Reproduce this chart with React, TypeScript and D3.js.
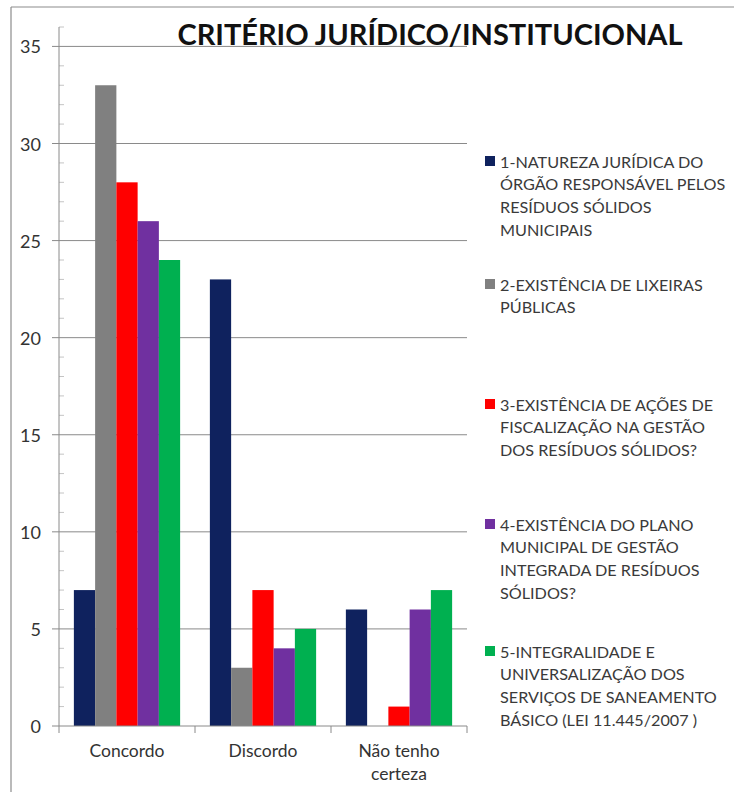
import React from "react";
import * as d3 from "d3";

const categories = ["Concordo", "Discordo", "Não tenho certeza"];
const categoryLines = [["Concordo"], ["Discordo"], ["Não tenho", "certeza"]];
const seriesNames = ["s1", "s2", "s3", "s4", "s5"];
const s1 = [7, 23, 6];
const s2 = [33, 3, 0];
const s3 = [28, 7, 1];
const s4 = [26, 4, 6];
const s5 = [24, 5, 7];
const seriesValues = [s1, s2, s3, s4, s5];
const seriesColors = ["#0f225e", "#808080", "#ff0000", "#7030a0", "#00b050"];
const legendLabels = [
  ["1-NATUREZA JURÍDICA DO", "ÓRGÃO RESPONSÁVEL PELOS", "RESÍDUOS SÓLIDOS", "MUNICIPAIS"],
  ["2-EXISTÊNCIA DE LIXEIRAS", "PÚBLICAS"],
  ["3-EXISTÊNCIA DE AÇÕES DE", "FISCALIZAÇÃO NA GESTÃO", "DOS RESÍDUOS SÓLIDOS?"],
  ["4-EXISTÊNCIA DO PLANO", "MUNICIPAL DE GESTÃO", "INTEGRADA DE RESÍDUOS", "SÓLIDOS?"],
  ["5-INTEGRALIDADE E", "UNIVERSALIZAÇÃO DOS", "SERVIÇOS DE SANEAMENTO", "BÁSICO (LEI 11.445/2007 )"],
];
const yMajorTicks = [0, 5, 10, 15, 20, 25, 30, 35];
const yMax = 36;
const title = "CRITÉRIO JURÍDICO/INSTITUCIONAL";

// layout
const W = 734;
const H = 792;
const plotLeft = 59;
const plotRight = 467;
const plotTop = 27;
const plotBottom = 726;
const legendTops = [161, 284, 404, 524, 651];
const legendLineH = 22.8;
const FONT = "Lato, 'Open Sans', sans-serif";

export default function App() {
  const y = d3.scaleLinear().domain([0, yMax]).range([plotBottom, plotTop]);
  const x0 = d3.scaleBand().domain(categories).range([plotLeft, plotRight]).padding(0);
  const x1 = d3
    .scaleBand()
    .domain(seriesNames)
    .range([0, x0.bandwidth()])
    .paddingInner(0)
    .paddingOuter(0.7);
  const minorTicks = d3.range(0, yMax + 1).filter((v) => v % 5 !== 0);
  const boundaries = [...categories.map((c) => x0(c) as number), plotRight];

  return (
    <svg
      width={W}
      height={H}
      style={{ position: "absolute", left: 0, top: 0, background: "#fff" }}
      fontFamily={FONT}
    >
      <rect x={0} y={0} width={W} height={H} fill="#fff" />
      {/* frame */}
      <line x1={11} y1={7} x2={W} y2={7} stroke="#8c8c8c" strokeWidth={1.2} />
      <line x1={11} y1={7} x2={11} y2={H} stroke="#8c8c8c" strokeWidth={1.2} />

      {/* gridlines */}
      {yMajorTicks
        .filter((t) => t > 0)
        .map((t) => (
          <line
            key={"g" + t}
            x1={plotLeft - 7}
            x2={plotRight}
            y1={y(t)}
            y2={y(t)}
            stroke="#8a8a8a"
            strokeWidth={1}
          />
        ))}
      {/* minor ticks */}
      {minorTicks.map((t) => (
        <line
          key={"m" + t}
          x1={plotLeft}
          x2={plotLeft + 5}
          y1={y(t)}
          y2={y(t)}
          stroke="#c4c4c4"
          strokeWidth={1}
        />
      ))}

      {/* bars */}
      {seriesValues.map((vals, si) =>
        vals.map((v, ci) => (
          <rect
            key={si + "-" + ci}
            x={(x0(categories[ci]) as number) + (x1(seriesNames[si]) as number)}
            y={y(v)}
            width={x1.bandwidth()}
            height={plotBottom - y(v)}
            fill={seriesColors[si]}
          />
        ))
      )}

      {/* y axis */}
      <line x1={plotLeft} x2={plotLeft} y1={plotTop} y2={plotBottom} stroke="#8a8a8a" strokeWidth={1} />
      <line x1={plotLeft - 7} x2={plotLeft} y1={plotBottom} y2={plotBottom} stroke="#8a8a8a" strokeWidth={1} />
      {yMajorTicks.map((t) => (
        <text
          key={"yl" + t}
          x={41}
          y={y(t)}
          textAnchor="end"
          dominantBaseline="central"
          fontSize={18}
          fill="#333"
        >
          {t}
        </text>
      ))}

      {/* x axis */}
      <line x1={plotLeft} x2={plotRight} y1={plotBottom} y2={plotBottom} stroke="#8a8a8a" strokeWidth={1} />
      {boundaries.map((bx, i) => (
        <line key={"xt" + i} x1={bx} x2={bx} y1={plotBottom} y2={plotBottom + 7} stroke="#8a8a8a" strokeWidth={1} />
      ))}
      {categories.map((c, ci) =>
        categoryLines[ci].map((ln, li) => (
          <text
            key={c + li}
            x={(x0(c) as number) + x0.bandwidth() / 2}
            y={750 + li * 23}
            textAnchor="middle"
            dominantBaseline="central"
            fontSize={17.5}
            fill="#333"
          >
            {ln}
          </text>
        ))
      )}

      {/* title */}
      <text x={430} y={33} textAnchor="middle" dominantBaseline="central" fontSize={29} fontWeight="bold" fill="#111">
        {title}
      </text>

      {/* legend */}
      {legendLabels.map((lines, si) => (
        <g key={"lg" + si}>
          <rect x={485} y={legendTops[si] - 5} width={10} height={10} fill={seriesColors[si]} />
          {lines.map((ln, li) => (
            <text
              key={li}
              x={500}
              y={legendTops[si] + li * legendLineH}
              dominantBaseline="central"
              fontSize={16.2}
              fill="#3a3a3a"
            >
              {ln}
            </text>
          ))}
        </g>
      ))}
    </svg>
  );
}
